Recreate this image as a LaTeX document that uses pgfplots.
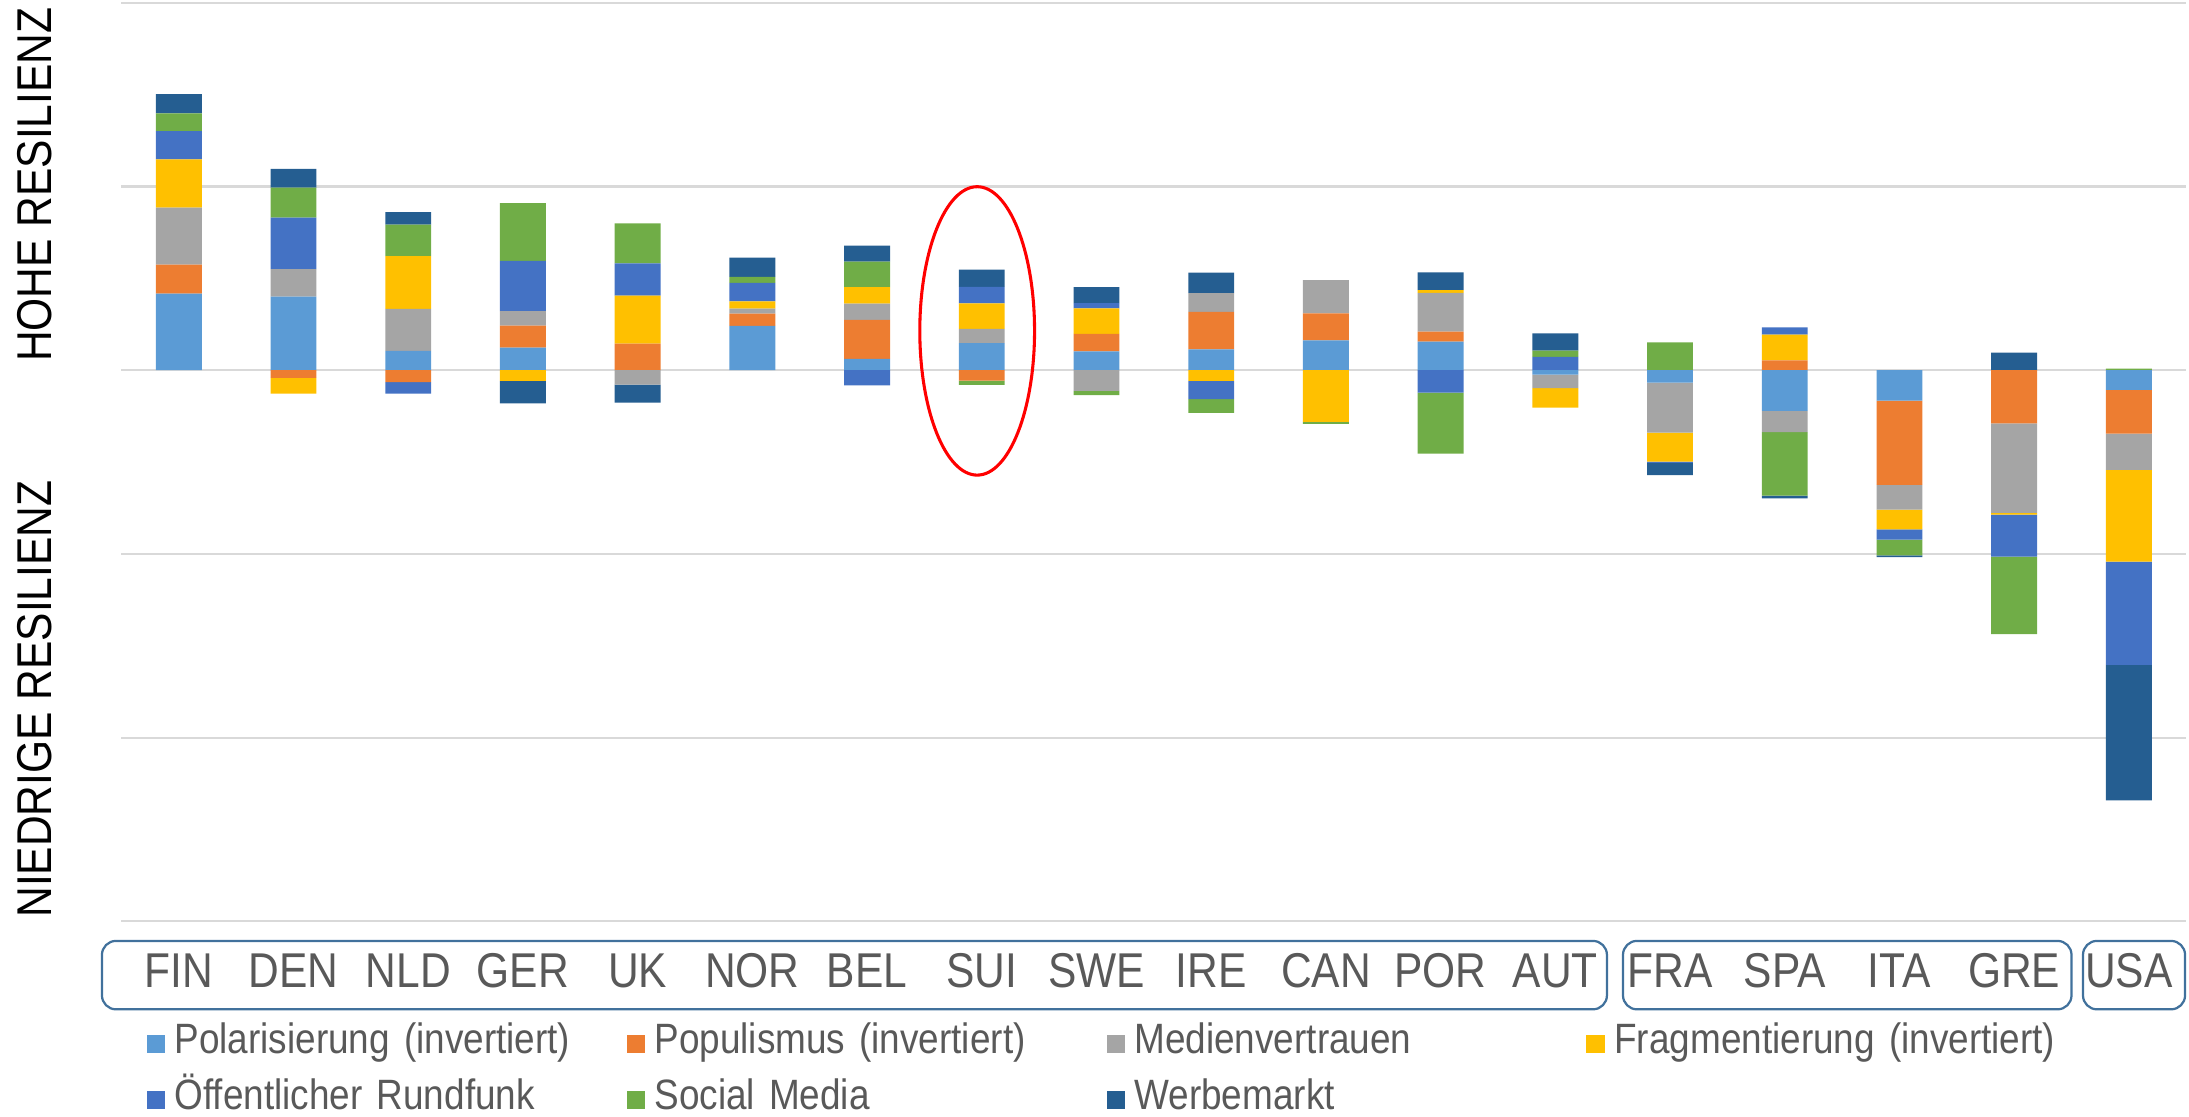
\documentclass[border=0pt]{standalone}
\usepackage{fontspec}
\setmainfont{Liberation Sans}[FakeStretch=0.87]
\usepackage{pgfplots}
\pgfplotsset{compat=1.18}
\usepackage{pgfplotstable}

\definecolor{cP}{HTML}{5B9BD5}
\definecolor{cPop}{HTML}{ED7D31}
\definecolor{cM}{HTML}{A5A5A5}
\definecolor{cF}{HTML}{FFC000}
\definecolor{cOR}{HTML}{4472C4}
\definecolor{cS}{HTML}{70AD47}
\definecolor{cW}{HTML}{255E91}
\definecolor{gridc}{HTML}{D9D9D9}
\definecolor{txt}{HTML}{595959}
\definecolor{boxc}{HTML}{41719C}

\pgfplotstableread{
x P Pop M F OR S W
0 0.417 0.158 0.310 0.263 0.154 0.096 0.105
1 0.401 -0.042 0.149 -0.085 0.281 0.163 0.102
2 0.105 -0.065 0.229 0.287 -0.062 0.172 0.067
3 0.123 0.120 0.078 -0.058 0.274 0.314 -0.123
4 0 0.145 -0.078 0.261 0.176 0.217 -0.098
5 0.241 0.067 0.027 0.040 0.100 0.033 0.105
6 0.062 0.212 0.089 0.089 -0.083 0.139 0.087
7 0.147 -0.056 0.078 0.139 0.089 -0.024 0.094
8 0.102 0.096 -0.113 0.138 0.029 -0.022 0.087
9 0.113 0.205 0.102 -0.058 -0.100 -0.074 0.111
10 0.162 0.147 0.181 -0.281 0 -0.011 0
11 0.156 0.054 0.211 0.015 -0.122 -0.332 0.096
12 -0.024 0 -0.073 -0.107 0.073 0.034 0.094
13 -0.067 0 -0.273 -0.157 -0.007 0.152 -0.067
14 -0.221 0.054 -0.116 0.140 0.039 -0.345 -0.015
15 -0.165 -0.459 -0.135 -0.107 -0.056 -0.086 -0.009
16 0 -0.290 -0.487 -0.009 -0.228 -0.423 0.096
17 -0.107 -0.238 -0.197 -0.500 -0.562 0.009 -0.738
}\data

\pgfplotsset{
  base/.style={
    width=739.5pt, height=329pt, scale only axis,
    xmin=-0.5, xmax=17.5, ymin=-3, ymax=2,
    ybar stacked, bar width=0.4, bar shift=0pt,
    axis line style={draw=none},
    major tick length=0pt,
    clip=false,
  },
}

\begin{document}
\begin{tikzpicture}
\begin{axis}[base,
  ytick={-3,-2,-1,0,1,2}, yticklabels={},
  ymajorgrids, grid style={gridc, line width=0.75pt},
  xtick={0,...,17},
  xticklabels={FIN,DEN,NLD,GER,UK,NOR,BEL,SUI,SWE,IRE,CAN,POR,AUT,FRA,SPA,ITA,GRE,USA},
  xticklabel style={anchor=center, yshift=-17.75pt, font=\fontsize{17.5}{20}\selectfont, text=txt},
  legend columns=4,
  legend cell align=left,
  legend image code/.code={\draw[#1, draw=none] (0pt,-5pt) rectangle (6.5pt,1.5pt);},
  legend style={at={(0,0)}, anchor=north west, xshift=9pt, yshift=-35.2pt,
    draw=none, fill=none, inner sep=0pt, outer sep=0pt, column sep=0pt, row sep=6pt,
    nodes={text width=158.4pt, align=left, inner xsep=3.5pt, inner ysep=0pt,
      text height=12pt, text depth=2pt, font=\fontsize{15.2}{18}\selectfont, text=txt}},
]
\addplot[fill=cP, draw=none] table[x=x, y expr={max(\thisrow{P},0)}] {\data};
\addplot[fill=cPop, draw=none] table[x=x, y expr={max(\thisrow{Pop},0)}] {\data};
\addplot[fill=cM, draw=none] table[x=x, y expr={max(\thisrow{M},0)}] {\data};
\addplot[fill=cF, draw=none] table[x=x, y expr={max(\thisrow{F},0)}] {\data};
\addplot[fill=cOR, draw=none] table[x=x, y expr={max(\thisrow{OR},0)}] {\data};
\addplot[fill=cS, draw=none] table[x=x, y expr={max(\thisrow{S},0)}] {\data};
\addplot[fill=cW, draw=none] table[x=x, y expr={max(\thisrow{W},0)}] {\data};
\legend{\mbox{Polarisierung (invertiert)}, \mbox{Populismus (invertiert)}, \mbox{Medienvertrauen}, \mbox{Fragmentierung (invertiert)}, \mbox{Öffentlicher Rundfunk}, \mbox{Social Media}, \mbox{Werbemarkt}}
\end{axis}
\begin{axis}[base, xtick=\empty, ytick=\empty]
\addplot[fill=cP, draw=none] table[x=x, y expr={min(\thisrow{P},0)}] {\data};
\addplot[fill=cPop, draw=none] table[x=x, y expr={min(\thisrow{Pop},0)}] {\data};
\addplot[fill=cM, draw=none] table[x=x, y expr={min(\thisrow{M},0)}] {\data};
\addplot[fill=cF, draw=none] table[x=x, y expr={min(\thisrow{F},0)}] {\data};
\addplot[fill=cOR, draw=none] table[x=x, y expr={min(\thisrow{OR},0)}] {\data};
\addplot[fill=cS, draw=none] table[x=x, y expr={min(\thisrow{S},0)}] {\data};
\addplot[fill=cW, draw=none] table[x=x, y expr={min(\thisrow{W},0)}] {\data};
\draw[red, line width=1.1pt] (axis cs:6.96,0.214) ellipse [x radius=20.55pt, y radius=51.65pt];
\draw[boxc, line width=0.8pt, rounded corners=5pt] ([yshift=-7pt]axis cs:-0.67,-3) rectangle ([yshift=-31.5pt]axis cs:12.45,-3);
\draw[boxc, line width=0.8pt, rounded corners=5pt] ([yshift=-7pt]axis cs:12.59,-3) rectangle ([yshift=-31.5pt]axis cs:16.5,-3);
\draw[boxc, line width=0.8pt, rounded corners=5pt] ([yshift=-7pt]axis cs:16.6,-3) rectangle ([yshift=-31.5pt]axis cs:17.49,-3);
\node[rotate=90, font=\fontsize{17.5}{20}\selectfont] at ([xshift=-31.25pt]axis cs:-0.5,1.01) {HOHE RESILIENZ};
\node[rotate=90, font=\fontsize{17.5}{20}\selectfont] at ([xshift=-31.25pt]axis cs:-0.5,-1.79) {NIEDRIGE RESILIENZ};
\end{axis}
\pgfresetboundingbox
\path ([shift={(-43.5pt,-70pt)}]current axis.south west) rectangle ([shift={(1pt,1pt)}]current axis.north east);
\end{tikzpicture}
\end{document}
